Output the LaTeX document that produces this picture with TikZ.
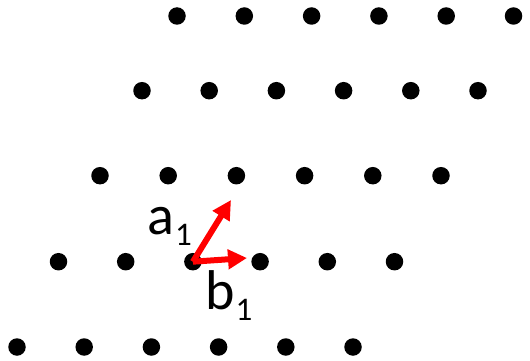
\documentclass[tikz,border=0pt]{standalone}
\usepackage{fontspec}
\setmainfont{Carlito}
\usetikzlibrary{arrows.meta}
\newcommand{\subone}{\kern1pt\raisebox{-11pt}{\fontsize{33}{36}\selectfont 1}}
\begin{document}
\begin{tikzpicture}[x=1pt,y=-1pt,
  dot/.style={circle,fill=black,inner sep=0pt,minimum size=17.5pt},
  vec/.style={red,line width=6pt,-{Triangle[length=19pt,width=19pt]}},
  lbl/.style={inner sep=0pt,anchor=base west,font=\fontsize{56}{60}\selectfont}]
\useasboundingbox (0,0) rectangle (530,361);
\foreach \i in {0,...,5} {
  \node[dot] (r1-\i) at ({177+67.3*\i},16) {};
  \node[dot] (r2-\i) at ({142+67.2*\i},90.7) {};
  \node[dot] (r3-\i) at ({100+68.2*\i},175.7) {};
  \node[dot] (r4-\i) at ({58.5+67.2*\i},261.7) {};
  \node[dot] (r5-\i) at ({17+67.2*\i},347) {};
}
\coordinate (atip) at (231,200);
\coordinate (btip) at (247,258);
\draw[vec] (r4-2.center) -- (atip);
\draw[vec] (r4-2.center) -- (btip);
\node[lbl] (a1) at (147,234) {a\subone};
\node[lbl] (b1) at (205,309) {b\subone};
\end{tikzpicture}
\end{document}
